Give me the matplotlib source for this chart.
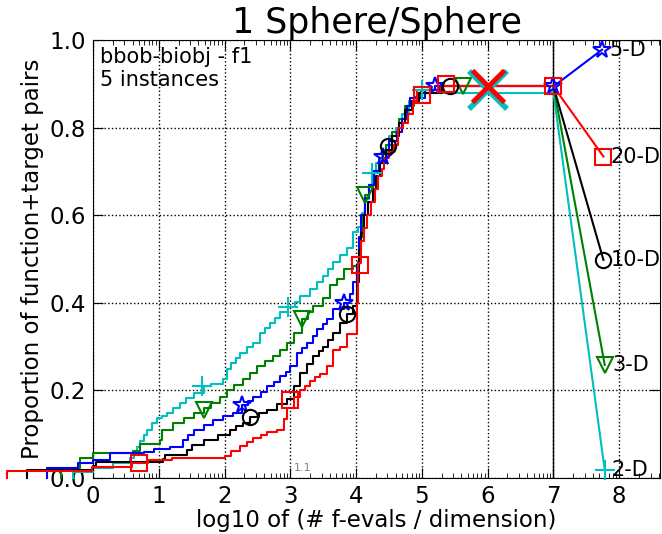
import numpy as np
import matplotlib
matplotlib.use("Agg")
import matplotlib.pyplot as plt

# ---------------- data ----------------
dims = ["2-D", "3-D", "5-D", "10-D", "20-D"]
colors = ["c", "g", "b", "k", "r"]
markers = ["+", "v", "*", "o", "s"]

# ECDF step points: x = log10(#f-evals / dimension), y = proportion
x_2d = [-0.30, -0.30, 0.0, 0.30, 0.56, 0.62, 0.67, 0.72, 0.77, 0.82, 0.90, 0.97, 1.05, 1.12, 1.22, 1.32,
        1.42, 1.53, 1.68, 1.80, 1.98, 2.03, 2.10, 2.17, 2.24, 2.34, 2.44, 2.54, 2.62, 2.69, 2.77, 2.85,
        2.97, 3.07, 3.15, 3.30, 3.40, 3.50, 3.58, 3.65, 3.75, 3.86, 3.96, 4.03, 4.09, 4.14, 4.20, 4.24,
        4.30, 4.40, 4.50, 4.60, 4.70, 4.80, 4.95, 7.0]
y_2d = [0.0, 0.014, 0.022, 0.034, 0.045, 0.055, 0.070, 0.085, 0.098, 0.110, 0.125, 0.136, 0.142, 0.149,
        0.160, 0.171, 0.183, 0.194, 0.209, 0.214, 0.225, 0.248, 0.262, 0.274, 0.286, 0.298, 0.309, 0.332,
        0.343, 0.355, 0.366, 0.378, 0.390, 0.402, 0.416, 0.432, 0.447, 0.462, 0.478, 0.493, 0.508, 0.524,
        0.562, 0.574, 0.604, 0.638, 0.670, 0.696, 0.720, 0.745, 0.780, 0.800, 0.830, 0.860, 0.880, 0.880]

x_3d = [-0.48, -0.48, -0.20, 0.0, 0.61, 0.72, 1.02, 1.05, 1.22, 1.38, 1.53, 1.68, 1.80, 1.93, 2.03, 2.15,
        2.28, 2.38, 2.49, 2.62, 2.74, 2.85, 2.95, 3.05, 3.18, 3.27, 3.35, 3.50, 3.61, 3.71, 3.81, 3.96,
        4.03, 4.06, 4.10, 4.14, 4.20, 4.27, 4.35, 4.45, 4.55, 4.65, 4.75, 4.88, 4.98, 5.30, 7.0]
y_3d = [0.0, 0.022, 0.045, 0.057, 0.062, 0.078, 0.087, 0.110, 0.126, 0.138, 0.149, 0.160, 0.172, 0.186,
        0.202, 0.213, 0.225, 0.240, 0.255, 0.266, 0.278, 0.293, 0.309, 0.332, 0.363, 0.378, 0.393, 0.410,
        0.440, 0.454, 0.478, 0.485, 0.493, 0.550, 0.600, 0.646, 0.670, 0.700, 0.730, 0.760, 0.790, 0.820,
        0.850, 0.870, 0.885, 0.894, 0.894]

x_5d = [-0.70, -0.70, -0.23, 0.0, 0.26, 0.77, 0.92, 1.17, 1.37, 1.45, 1.53, 1.68, 1.83, 1.98, 2.13, 2.26,
        2.35, 2.44, 2.55, 2.65, 2.75, 2.85, 2.93, 3.00, 3.10, 3.18, 3.26, 3.34, 3.41, 3.49, 3.56, 3.65,
        3.81, 3.90, 3.96, 4.01, 4.04, 4.08, 4.13, 4.20, 4.27, 4.35, 4.41, 4.50, 4.62, 4.70, 4.77, 4.82,
        5.05, 5.20, 7.0]
y_5d = [0.0, 0.022, 0.035, 0.041, 0.057, 0.060, 0.066, 0.071, 0.087, 0.098, 0.110, 0.121, 0.133, 0.141,
        0.149, 0.167, 0.176, 0.186, 0.197, 0.209, 0.220, 0.232, 0.243, 0.255, 0.286, 0.297, 0.309, 0.324,
        0.340, 0.352, 0.363, 0.386, 0.400, 0.420, 0.447, 0.485, 0.550, 0.600, 0.640, 0.670, 0.700, 0.720,
        0.740, 0.770, 0.790, 0.820, 0.850, 0.868, 0.885, 0.894, 0.894]

x_10d = [-1.0, -1.0, 0.0, 0.05, 1.07, 1.10, 1.43, 1.50, 1.68, 1.90, 2.08, 2.18, 2.28, 2.39, 2.52, 2.65,
         2.80, 2.95, 3.05, 3.15, 3.25, 3.35, 3.43, 3.50, 3.58, 3.65, 3.76, 3.86, 3.96, 4.02, 4.05, 4.08,
         4.12, 4.18, 4.25, 4.30, 4.37, 4.45, 4.55, 4.65, 4.75, 4.85, 4.95, 5.30, 7.0]
y_10d = [0.0, 0.018, 0.027, 0.037, 0.043, 0.052, 0.064, 0.075, 0.087, 0.098, 0.110, 0.118, 0.126, 0.140,
         0.148, 0.156, 0.168, 0.180, 0.210, 0.240, 0.260, 0.278, 0.289, 0.300, 0.316, 0.332, 0.355, 0.374,
         0.393, 0.447, 0.520, 0.560, 0.600, 0.630, 0.660, 0.690, 0.720, 0.750, 0.780, 0.810, 0.840, 0.860,
         0.880, 0.894, 0.894]

x_20d = [-1.30, -1.30, -0.02, 0.60, 0.83, 1.20, 2.00, 2.10, 2.24, 2.34, 2.43, 2.55, 2.65, 2.80, 2.90,
         2.95, 3.05, 3.15, 3.22, 3.30, 3.38, 3.45, 3.56, 3.65, 3.75, 3.86, 4.01, 4.03, 4.08, 4.12, 4.16,
         4.22, 4.29, 4.34, 4.39, 4.43, 4.50, 4.57, 4.64, 4.72, 4.79, 4.87, 4.93, 5.28, 7.0]
y_20d = [0.0, 0.017, 0.026, 0.034, 0.040, 0.045, 0.050, 0.062, 0.074, 0.083, 0.092, 0.098, 0.104, 0.110,
         0.135, 0.160, 0.185, 0.200, 0.211, 0.222, 0.230, 0.238, 0.255, 0.293, 0.300, 0.328, 0.400, 0.490,
         0.540, 0.570, 0.600, 0.630, 0.660, 0.690, 0.706, 0.730, 0.745, 0.760, 0.800, 0.810, 0.830, 0.860,
         0.885, 0.894, 0.894]

curves_x = [x_2d, x_3d, x_5d, x_10d, x_20d]
curves_y = [y_2d, y_3d, y_5d, y_10d, y_20d]

# marker positions along each curve
mk_x = [[1.65, 2.97, 4.24, 5.00],
        [1.68, 3.18, 4.14, 5.63],
        [2.26, 3.81, 4.41, 5.20, 7.0],
        [2.39, 3.86, 4.49, 5.42],
        [0.70, 3.00, 4.06, 5.00, 5.37, 7.0]]
mk_y = [[0.209, 0.390, 0.696, 0.885],
        [0.155, 0.363, 0.646, 0.894],
        [0.167, 0.400, 0.734, 0.894, 0.894],
        [0.140, 0.374, 0.757, 0.894],
        [0.034, 0.178, 0.487, 0.875, 0.899, 0.894]]

# final values at the right (label positions)
end_x = [7.78, 7.78, 7.74, 7.76, 7.76]
end_y = [0.018, 0.258, 0.978, 0.498, 0.734]

# median max budget markers
budget_x = [6.0, 6.0]
budget_y = [0.886, 0.894]
budget_c = ["c", "r"]

xticks = [0, 1, 2, 3, 4, 5, 6, 7, 8]
yticks = [0.0, 0.2, 0.4, 0.6, 0.8, 1.0]

# ---------------- plot ----------------
fig = plt.figure(figsize=(6.62, 5.34), dpi=100)
ax = fig.add_axes([93 / 662, 1 - 478 / 534, (660 - 93) / 662, (478 - 40) / 534])

ax.set_xlim(0, 8.62)
ax.set_ylim(0, 1.0)

for cx, cy, col in zip(curves_x, curves_y, colors):
    ax.step(cx, cy, where="post", color=col, lw=1.5, clip_on=False, zorder=3)

# right-side connecting lines
for cx, cy, ex, ey, col in zip(curves_x, curves_y, end_x, end_y, colors):
    ax.plot([cx[-1], ex], [cy[-1], ey], color=col, lw=1.5, zorder=3, clip_on=False)

for mx, my, col, mk in zip(mk_x, mk_y, colors, markers):
    ms = 14 if mk == "+" else (13 if mk == "*" else 11)
    ax.plot(mx, my, ls="none", marker=mk, ms=ms, mfc="none", mec=col, mew=1.5, zorder=4, clip_on=False)

for ex, ey, col, mk, lab in zip(end_x, end_y, colors, markers, dims):
    ms = 14 if mk == "+" else (13 if mk == "*" else 11)
    ax.plot([ex], [ey], ls="none", marker=mk, ms=ms, mfc="none", mec=col, mew=1.5, zorder=4, clip_on=False)
    ax.text(ex + 0.11, ey, lab, fontsize=15, va="center", ha="left")

ax.plot(budget_x[0], budget_y[0], ls="none", marker="x", ms=28, mew=4, color=budget_c[0], zorder=5)
ax.plot(budget_x[1], budget_y[1], ls="none", marker="x", ms=23, mew=3.5, color=budget_c[1], zorder=6)

ax.axvline(7, color="k", lw=1, zorder=2)

ax.set_xticks(xticks)
ax.set_yticks(yticks)
ax.set_yticklabels(["%.1f" % v for v in yticks])
minor = [d + np.log10(k) for d in range(0, 9) for k in range(2, 10) if d + np.log10(k) < 8.62]
ax.set_xticks(minor, minor=True)
ax.tick_params(which="major", direction="in", top=True, right=True, length=7, labelsize=16.5, pad=5)
ax.tick_params(which="minor", direction="in", top=True, right=True, length=3.5)
ax.grid(True, which="major", ls=":", color="k", lw=1)

ax.set_xlabel("log10 of (# f-evals / dimension)", fontsize=16.5, labelpad=1)
ax.set_ylabel("Proportion of function+target pairs", fontsize=16.5, labelpad=4)
ax.set_title("1 Sphere/Sphere", fontsize=25, pad=2)

ax.text(0.012, 0.985, "bbob-biobj - f1\n5 instances", transform=ax.transAxes,
        fontsize=15, va="top", ha="left", linespacing=1.2)
ax.text(3.05, 0.022, "1.1", fontsize=8, color="gray", ha="left", va="center")

fig.savefig("out.png", dpi=100)
